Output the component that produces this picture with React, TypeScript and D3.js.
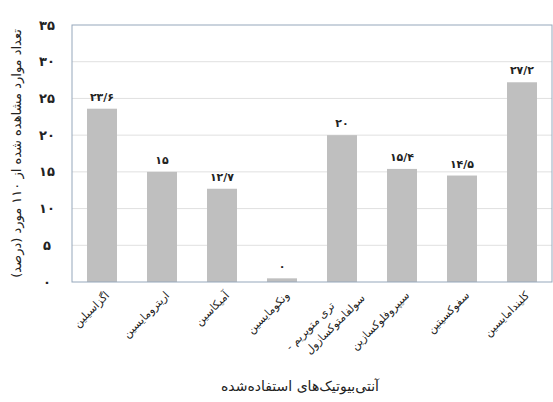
import React, { useEffect, useRef } from 'react'
import * as d3 from 'd3'

const categories: string[][] = [
  ['اگزاسیلین'],
  ['اریترومایسین'],
  ['آمیکاسین'],
  ['ونکومایسین'],
  ['تری متوپریم -', 'سولفامتوکسازول'],
  ['سیپروفلوکسازین'],
  ['سفوکسیتین'],
  ['کلیندامایسین'],
]
const values = [23.6, 15, 12.7, 0.5, 20, 15.4, 14.5, 27.2]
const valueLabels = ['۲۳/۶', '۱۵', '۱۲/۷', '۰', '۲۰', '۱۵/۴', '۱۴/۵', '۲۷/۲']
const yTicks = [0, 5, 10, 15, 20, 25, 30, 35]
const yTickLabels = ['۰', '۵', '۱۰', '۱۵', '۲۰', '۲۵', '۳۰', '۳۵']
const yTitle = 'تعداد موارد مشاهده شده از ۱۱۰ مورد (درصد)'
const xTitle = 'آنتی‌بیوتیک‌های استفاده‌شده'

const W = 553
const H = 402
const FONT = '"DejaVu Sans", sans-serif'

export default function App() {
  const svgRef = useRef<SVGSVGElement>(null)

  useEffect(() => {
    if (!svgRef.current) return
    const svg = d3.select(svgRef.current)
    svg.selectAll('*').remove()

    const left = 72, right = 552, top = 25, bottom = 282

    const x = d3.scaleBand<number>()
      .domain(d3.range(values.length))
      .range([left, right])
      .paddingInner(0.5)
      .paddingOuter(0.25)

    const y = d3.scaleLinear().domain([0, 35]).range([bottom, top])

    // gridlines
    svg.append('g')
      .selectAll('line')
      .data(yTicks.slice(1, -1))
      .enter().append('line')
      .attr('x1', left).attr('x2', right)
      .attr('y1', d => y(d)).attr('y2', d => y(d))
      .style('stroke', '#e0e0e0')

    // bars
    svg.append('g')
      .selectAll('rect')
      .data(values)
      .enter().append('rect')
      .attr('x', (d, i) => x(i)!)
      .attr('width', x.bandwidth())
      .attr('y', d => y(d))
      .attr('height', d => bottom - y(d))
      .style('fill', '#bfbfbf')

    // plot border
    svg.append('rect')
      .attr('x', left).attr('y', top)
      .attr('width', right - left).attr('height', bottom - top)
      .style('fill', 'none')
      .style('stroke', '#95a7bb')
      .style('stroke-width', 1)

    // value labels
    svg.append('g')
      .selectAll('text')
      .data(values)
      .enter().append('text')
      .attr('x', (d, i) => x(i)! + x.bandwidth() / 2)
      .attr('y', d => y(d) - 8)
      .attr('text-anchor', 'middle')
      .style('font-family', FONT)
      .style('font-size', '11px')
      .style('font-weight', 'bold')
      .style('fill', '#222')
      .text((d, i) => valueLabels[i])

    // y tick labels
    svg.append('g')
      .selectAll('text')
      .data(yTicks)
      .enter().append('text')
      .attr('x', 47)
      .attr('y', d => y(d))
      .attr('dy', '0.35em')
      .attr('text-anchor', 'middle')
      .style('font-family', FONT)
      .style('font-size', '13px')
      .style('font-weight', 'bold')
      .style('fill', '#222')
      .text((d, i) => yTickLabels[i])

    // category labels, rotated
    const cat = svg.append('g')
      .selectAll('g')
      .data(categories)
      .enter().append('g')
      .attr('transform', (d, i) => {
        const cx = x(i)! + x.bandwidth() / 2 + 8
        return `translate(${cx},${bottom + 14}) rotate(-45)`
      })
    cat.each(function (lines) {
      const g = d3.select(this)
      lines.forEach((line, j) => {
        const two = lines.length > 1
        g.append('text')
          .attr('direction', 'rtl')
          .attr('text-anchor', 'start')
          .attr('x', two ? (j === 0 ? -18 : 9) : 0)
          .attr('y', two ? (j === 0 ? -3 : 13) : 0)
          .style('font-family', FONT)
          .style('font-size', '11px')
          .style('fill', '#222')
          .text(line)
      })
    })

    // y axis title
    svg.append('text')
      .attr('transform', `translate(21,${(top + bottom) / 2}) rotate(-90)`)
      .attr('text-anchor', 'middle')
      .attr('direction', 'rtl')
      .style('font-family', FONT)
      .style('font-size', '13px')
      .style('fill', '#222')
      .text(yTitle)

    // x axis title
    svg.append('text')
      .attr('x', 300)
      .attr('y', 391)
      .attr('text-anchor', 'middle')
      .attr('direction', 'rtl')
      .style('font-family', FONT)
      .style('font-size', '14px')
      .style('fill', '#222')
      .text(xTitle)
  }, [])

  return (
    <svg ref={svgRef} width={W} height={H}
      style={{ position: 'absolute', left: 0, top: 0, background: '#fff' }} />
  )
}
